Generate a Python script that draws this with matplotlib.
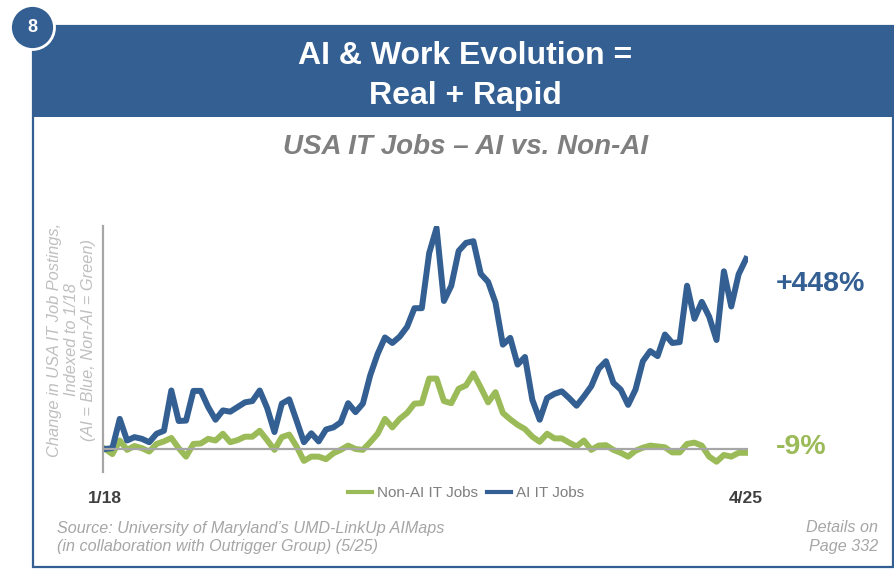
import numpy as np
import matplotlib
matplotlib.use("Agg")
import matplotlib.pyplot as plt
from matplotlib.patches import Rectangle, Circle

plt.rcParams['font.family'] = ['Liberation Sans', 'DejaVu Sans']

# monthly index, 1/18 .. 4/25 (88 months), % change vs 1/18
ai_jobs = [0, 2, 71, 20, 28, 24, 16, 36, 43, 138,
           66, 67, 137, 137, 99, 69, 91, 88, 99, 110,
           113, 138, 97, 40, 107, 117, 67, 16, 37, 18,
           46, 51, 63, 108, 87, 107, 174, 224, 263, 250,
           265, 288, 332, 332, 462, 521, 349, 385, 467, 486,
           490, 413, 394, 345, 246, 262, 199, 217, 116, 69,
           120, 130, 136, 120, 102, 124, 148, 189, 207, 156,
           140, 104, 140, 207, 231, 219, 270, 250, 252, 385,
           307, 347, 312, 257, 419, 336, 412, 448]
non_ai_jobs = [0, -12, 20, -2, 7, 2, -6, 12, 18, 26,
               2, -18, 12, 13, 24, 20, 36, 16, 21, 29,
               29, 43, 21, -2, 28, 34, 6, -28, -18, -18,
               -24, -10, -2, 8, 0, -2, 16, 36, 71, 51,
               71, 85, 107, 108, 166, 166, 113, 108, 142, 150,
               178, 145, 110, 134, 85, 70, 57, 47, 29, 17,
               36, 25, 25, 15, 6, 20, -2, 8, 9, -2,
               -9, -18, -4, 3, 8, 6, 4, -8, -8, 12,
               15, 8, -18, -30, -14, -18, -9, -9]
tick_labels = ['1/18', '4/25']
series_names = ['Non-AI IT Jobs', 'AI IT Jobs']

BLUE = '#345F92'
GREEN = '#9BBB59'

fig = plt.figure(figsize=(8.95, 5.7), dpi=100)

# decoration layer in pixel coordinates
bg = fig.add_axes([0, 0, 1, 1])
bg.set_xlim(0, 895)
bg.set_ylim(570, 0)
bg.axis('off')
bg.add_patch(Rectangle((33, 26), 860, 541, facecolor='white', edgecolor=BLUE, lw=1.6))
bg.add_patch(Rectangle((33, 26), 860, 91, facecolor=BLUE, edgecolor='none'))
bg.add_patch(Circle((32.5, 27.5), 22, facecolor=BLUE, edgecolor='white', lw=2, zorder=5))
bg.text(32.5, 28, '8', color='white', fontsize=13, fontweight='bold', ha='center', va='center', zorder=6)

bg.text(465, 56, 'AI & Work Evolution =', color='white', fontsize=23, fontweight='bold', ha='center', va='center')
bg.text(465, 96, 'Real + Rapid', color='white', fontsize=23, fontweight='bold', ha='center', va='center')
bg.text(466, 147, 'USA IT Jobs \u2013 AI vs. Non-AI', color='#7F7F7F', fontsize=20, fontweight='bold',
        style='italic', ha='center', va='center')

ylab_lines = ['Change in USA IT Job Postings,', 'Indexed to 1/18', '(AI = Blue, Non-AI = Green)']
for i, line in enumerate(ylab_lines):
    bg.text(55 + 17 * i, 340, line, color='#BFBFBF', fontsize=11.8, style='italic', rotation=90,
            ha='center', va='center')

bg.text(776, 284, '+448%', color=BLUE, fontsize=20.5, fontweight='bold', ha='left', va='center')
bg.text(776, 447, '-9%', color=GREEN, fontsize=20.5, fontweight='bold', ha='left', va='center')

bg.text(57, 528, "Source: University of Maryland\u2019s UMD-LinkUp AIMaps", color='#A6A6A6', fontsize=11.6,
        style='italic', ha='left', va='center')
bg.text(57, 547, "(in collaboration with Outrigger Group) (5/25)", color='#A6A6A6', fontsize=11.6,
        style='italic', ha='left', va='center')
bg.text(878, 528, 'Details on', color='#A6A6A6', fontsize=11.6, style='italic', ha='right', va='center')
bg.text(878, 547, 'Page 332', color='#A6A6A6', fontsize=11.6, style='italic', ha='right', va='center')

# chart
x = np.arange(len(ai_jobs))
px0, px1 = 105, 746
step = (px1 - px0) / (len(x) - 1)
k = 448 / (449 - 259)  # percent per pixel
left_px, right_px, top_px, bot_px = 103, 748, 226, 472
ax = fig.add_axes([left_px / 895, (570 - bot_px) / 570, (right_px - left_px) / 895, (bot_px - top_px) / 570])
ax.set_xlim(-(px0 - left_px) / step, (len(x) - 1) + (right_px - px1) / step)
ax.set_ylim(-(bot_px - 449) * k, (449 - top_px) * k)
ax.patch.set_alpha(0)

ax.plot(x, non_ai_jobs, color=GREEN, lw=4.3, solid_joinstyle='round', label=series_names[0], zorder=2)
ax.plot(x, ai_jobs, color=BLUE, lw=4.3, solid_joinstyle='round', label=series_names[1], zorder=2)
ax.axhline(0, color='#A6A6A6', lw=1.6, zorder=3)

for s in ['top', 'right', 'bottom']:
    ax.spines[s].set_visible(False)
ax.spines['left'].set_color('#A6A6A6')
ax.spines['left'].set_linewidth(1.6)
ax.set_yticks([])
ax.set_xticks([0, len(x) - 1])
ax.set_xticklabels(tick_labels, fontsize=12.5, fontweight='bold', color='#404040')
ax.tick_params(axis='x', length=0, pad=14)

leg = ax.legend(loc='center', bbox_to_anchor=(466 / 895, (570 - 493) / 570), bbox_transform=fig.transFigure,
                ncol=2, frameon=False, fontsize=11, handlelength=1.6, handletextpad=0.3, columnspacing=0.6,
                labelcolor='#7F7F7F')
for h in leg.get_lines():
    h.set_linewidth(3)

fig.savefig('out.png', dpi=100)
